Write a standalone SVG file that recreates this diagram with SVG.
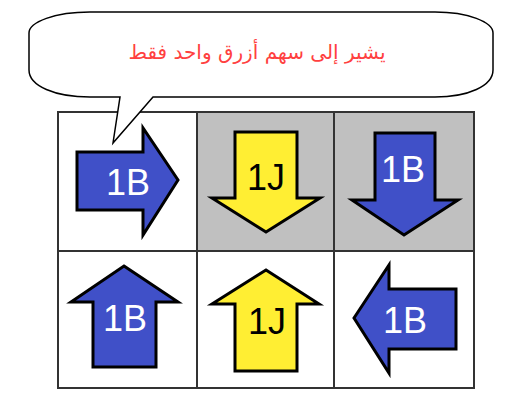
<svg xmlns="http://www.w3.org/2000/svg" width="516" height="412" viewBox="0 0 516 412">
<style>
.cell{stroke:#333;stroke-width:2}
.w{fill:#fff}
.g{fill:#c0c0c0}
.arr{stroke:#000;stroke-width:3;stroke-linejoin:miter}
.b{fill:#4050c8}
.y{fill:#ffee33}
.lbl{font-family:"Liberation Sans",Arial,sans-serif;font-size:36px;text-anchor:middle}
.lw{fill:#fff}
.lk{fill:#000}
</style>
<rect width="516" height="412" fill="#fff"/>
<g id="grid">
<rect class="cell w" x="58" y="112" width="139" height="139"/>
<rect class="cell g" x="197" y="112" width="137" height="139"/>
<rect class="cell g" x="334" y="112" width="140" height="139"/>
<rect class="cell w" x="58" y="251" width="139" height="137"/>
<rect class="cell w" x="197" y="251" width="137" height="137"/>
<rect class="cell w" x="334" y="251" width="140" height="137"/>
</g>
<g id="a1">
<path class="arr b" d="M77,152 L143,152 L143,128 L178,180 L143,235 L143,210 L77,210 Z"/>
<text class="lbl lw" x="128" y="195">1B</text>
</g>
<g id="a2">
<path class="arr y" d="M235,132 L297,132 L297,198 L320,198 L266,232 L212,198 L235,198 Z"/>
<text class="lbl lk" x="266" y="190">1J</text>
</g>
<g id="a3">
<path class="arr b" d="M375,133 L435,133 L435,200 L458,200 L404,235 L352,200 L375,200 Z"/>
<text class="lbl lw" x="403" y="182">1B</text>
</g>
<g id="a4">
<path class="arr b" d="M124,266 L178,302 L156,302 L156,367 L93,367 L93,302 L71,302 Z"/>
<text class="lbl lw" x="125" y="331">1B</text>
</g>
<g id="a5">
<path class="arr y" d="M266,270 L319,304 L297,304 L297,371 L235,371 L235,304 L212,304 Z"/>
<text class="lbl lk" x="267" y="334">1J</text>
</g>
<g id="a6">
<path class="arr b" d="M354,318 L389,265 L389,289 L456,289 L456,349 L389,349 L389,373 Z"/>
<text class="lbl lw" x="405" y="333">1B</text>
</g>
<g id="bubble">
<path d="M90,12 L435,12 C468,12 493,22 493,33 L493,70 C493,86 468,97 435,97 L153,97 L113,143 L120,97 L90,97 C55,97 29,86 29,70 L29,33 C29,22 55,12 90,12 Z" fill="#fff" stroke="#000" stroke-width="1.5"/>
<text x="257" y="59" font-family="'DejaVu Sans','Noto Sans',sans-serif" font-size="20" fill="#ff4040" text-anchor="middle">يشير إلى سهم أزرق واحد فقط</text>
</g>
</svg>
